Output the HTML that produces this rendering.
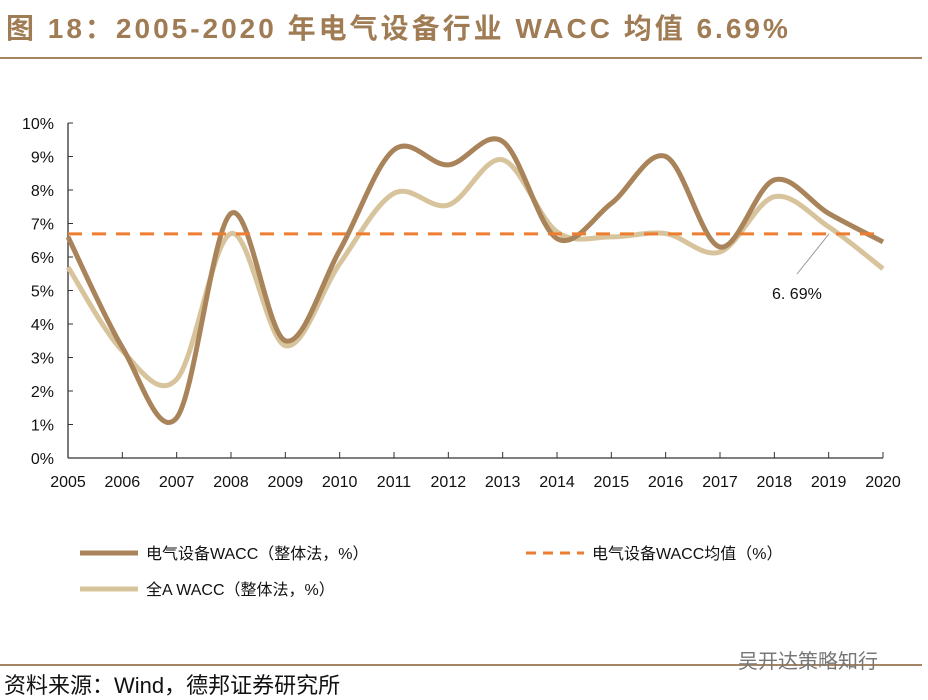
<!DOCTYPE html>
<html><head><meta charset="utf-8"><style>
body{margin:0;width:928px;height:699px;background:#fff;overflow:hidden;font-family:"Liberation Sans","Noto Sans CJK SC",sans-serif;position:relative}
.title{position:absolute;left:6px;top:7px;font-size:28px;font-weight:bold;color:#a07c55;letter-spacing:3px;white-space:nowrap}
.rule{position:absolute;left:0;width:922px;height:2px;background:#a58563}
.src{position:absolute;left:4px;top:668px;font-size:22px;color:#111}
.wm{position:absolute;left:738px;top:645px;font-size:20px;color:#777}
</style></head><body>
<div class="title">图 18：2005-2020 年电气设备行业 WACC 均值 6.69%</div>
<div class="rule" style="top:57px"></div>
<div class="rule" style="top:664px"></div>
<div class="src">资料来源：Wind，德邦证券研究所</div>
<div class="wm">吴开达策略知行</div>
<svg id="c" width="928" height="699" style="position:absolute;left:0;top:0"></svg>
<script>
const years=[2005,2006,2007,2008,2009,2010,2011,2012,2013,2014,2015,2016,2017,2018,2019,2020];
const industryWacc=[6.6,3.3,1.2,7.3,3.5,6.2,9.2,8.75,9.45,6.55,7.6,9.0,6.3,8.3,7.3,6.45];
const allAWacc=[5.7,3.2,2.35,6.7,3.35,5.8,7.9,7.55,8.9,6.75,6.6,6.7,6.15,7.8,6.9,5.65];
const meanValue=[6.69];
const yTicks=[0,1,2,3,4,5,6,7,8,9,10];
const svg=document.getElementById('c');const NS='http://www.w3.org/2000/svg';
const X=i=>68+i*(883-68)/15, Y=v=>458-v*33.5;
function mk(t,a,txt){const e=document.createElementNS(NS,t);for(const k in a)e.setAttribute(k,a[k]);if(txt!==undefined)e.textContent=txt;svg.appendChild(e);return e;}
let e=mk('line',{x1:68,y1:123,x2:68,y2:458,stroke:'#333','stroke-width':1.3});

e=mk('line',{x1:68,y1:458,x2:883,y2:458,stroke:'#333','stroke-width':1.3});

yTicks.forEach(v=>{mk('line',{x1:68,y1:Y(v),x2:73,y2:Y(v),stroke:'#333'});
e=mk('text',{x:54,y:Y(v)+6,'text-anchor':'end','font-size':16,fill:'#111'},v+'%');
});
years.forEach((y,i)=>{mk('line',{x1:X(i),y1:458,x2:X(i),y2:452,stroke:'#333'});
e=mk('text',{x:X(i),y:487,'text-anchor':'middle','font-size':16,fill:'#111'},y);
});
function path(vals){const p=vals.map((v,i)=>[X(i),Y(v)]);let d='M'+p[0];
for(let i=0;i<p.length-1;i++){const a=p[i-1]||p[i],b=p[i],c=p[i+1],n=p[i+2]||c;
d+=' C'+(b[0]+(c[0]-a[0])/6)+','+(b[1]+(c[1]-a[1])/6)+' '+(c[0]-(n[0]-b[0])/6)+','+(c[1]-(n[1]-b[1])/6)+' '+c;}return d;}
e=mk('path',{d:path(allAWacc),fill:'none',stroke:'#d8c49c','stroke-width':5});

e=mk('path',{d:path(industryWacc),fill:'none',stroke:'#a9845a','stroke-width':5});

e=mk('line',{x1:68,y1:Y(meanValue[0]),x2:883,y2:Y(meanValue[0]),stroke:'#ed7d31','stroke-width':3,'stroke-dasharray':'14 10'});

mk('line',{x1:829,y1:Y(meanValue[0]),x2:797,y2:274,stroke:'#999','stroke-width':1});
e=mk('text',{x:772,y:299,'font-size':16,fill:'#111'},meanValue[0].toFixed(2).replace('.','. ')+'%');

function leg(x,y,col,dash,txt,n){const l=mk('line',{x1:x,y1:y,x2:x+58,y2:y,stroke:col,'stroke-width':dash?3:5,'stroke-dasharray':dash?'10 7':'none'});

const t=mk('text',{x:x+66,y:y+6,'font-size':16,fill:'#111'},txt);
}
leg(80,553,'#a9845a',false,'电气设备WACC（整体法，%）','legend-industry-wacc');
leg(80,589,'#d8c49c',false,'全A WACC（整体法，%）','legend-all-a-wacc');
leg(526,553,'#ed7d31',true,'电气设备WACC均值（%）','legend-mean');
</script>
</body></html>
